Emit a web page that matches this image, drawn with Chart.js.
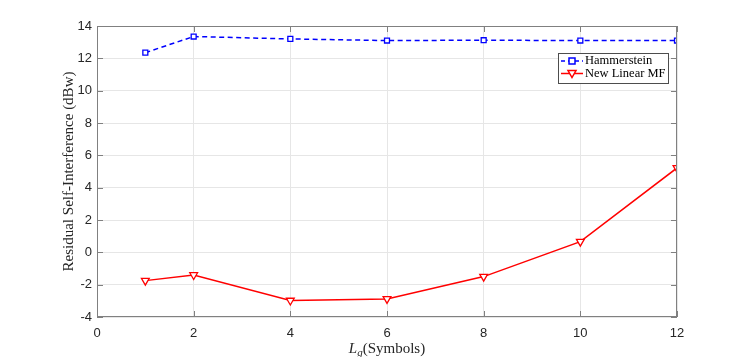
<!DOCTYPE html>
<html lang="en">
<head>
<meta charset="UTF-8">
<title>Residual Self-Interference vs Lg</title>
<script src="https://cdn.jsdelivr.net/npm/chart.js"></script>
<style>
  html, body { margin: 0; padding: 0; background: #fff; }
  #wrap { width: 748px; height: 357px; }
</style>
</head>
<body>
<div id="wrap"><canvas id="myChart" width="748" height="357"></canvas></div>
<script>
// data
const lgValues    = [1, 2, 4, 6, 8, 10, 12];
const hammerstein = [12.35, 13.35, 13.2, 13.1, 13.12, 13.1, 13.1];
const newLinearMF = [-1.75, -1.4, -2.98, -2.88, -1.5, 0.66, 5.22];
const xTicks = [0, 2, 4, 6, 8, 10, 12];
const yTicks = [-4, -2, 0, 2, 4, 6, 8, 10, 12, 14];

const seriesNames = ['Hammerstein', 'New Linear MF'];

const toPoints = ys => lgValues.map((x, i) => ({ x, y: ys[i] }));

// box, inward ticks, legend and the x title (subscript g)
const matlabLook = {
  id: 'matlabLook',
  afterDraw(chart) {
    const { ctx, chartArea: a, scales: { x, y } } = chart;
    ctx.save();
    ctx.strokeStyle = '#808080';
    ctx.lineWidth = 1;
    ctx.strokeRect(a.left + 0.5, a.top + 0.5, a.right - a.left - 1, a.bottom - a.top - 1);
    ctx.beginPath();
    xTicks.forEach(v => {
      const px = Math.round(x.getPixelForValue(v)) + 0.5;
      ctx.moveTo(px, a.bottom); ctx.lineTo(px, a.bottom - 6);
      ctx.moveTo(px, a.top);    ctx.lineTo(px, a.top + 6);
    });
    yTicks.forEach(v => {
      const py = Math.round(y.getPixelForValue(v)) + 0.5;
      ctx.moveTo(a.left, py);  ctx.lineTo(a.left + 6, py);
      ctx.moveTo(a.right, py); ctx.lineTo(a.right - 6, py);
    });
    ctx.stroke();

    // legend
    const lx = 558, ly = 53, lw = 110, lh = 30;
    ctx.fillStyle = '#fff';
    ctx.fillRect(lx, ly, lw, lh);
    ctx.strokeStyle = '#4d4d4d';
    ctx.strokeRect(lx + 0.5, ly + 0.5, lw, lh);
    ctx.font = '12.5px "Liberation Serif", "Times New Roman", serif';
    ctx.textBaseline = 'middle';
    ctx.textAlign = 'left';
    // Hammerstein entry
    let ey = ly + 8;
    ctx.strokeStyle = '#0000ff';
    ctx.lineWidth = 1.5;
    ctx.setLineDash([4, 3]);
    ctx.beginPath(); ctx.moveTo(lx + 3, ey); ctx.lineTo(lx + 25, ey); ctx.stroke();
    ctx.setLineDash([]);
    ctx.fillStyle = '#fff';
    ctx.fillRect(lx + 11, ey - 3, 6, 6);
    ctx.strokeRect(lx + 11, ey - 3, 6, 6);
    ctx.fillStyle = '#000';
    ctx.fillText(seriesNames[0], lx + 27, ey);
    // New Linear MF entry
    ey = ly + 20.5;
    ctx.strokeStyle = '#ff0000';
    ctx.beginPath(); ctx.moveTo(lx + 3, ey); ctx.lineTo(lx + 25, ey); ctx.stroke();
    ctx.beginPath();
    ctx.moveTo(lx + 10, ey - 3); ctx.lineTo(lx + 18, ey - 3); ctx.lineTo(lx + 14, ey + 4); ctx.closePath();
    ctx.fillStyle = '#fff'; ctx.fill(); ctx.stroke();
    ctx.fillStyle = '#000';
    ctx.fillText(seriesNames[1], lx + 27, ey);

    // x axis title: L_g(Symbols)
    ctx.fillStyle = '#262626';
    const cx = (a.left + a.right) / 2, ty = 349;
    ctx.font = 'italic 15px "Liberation Serif", serif';
    const wL = ctx.measureText('L').width;
    ctx.font = 'italic 11px "Liberation Serif", serif';
    const wg = ctx.measureText('g').width;
    ctx.font = '15px "Liberation Serif", serif';
    const wRest = ctx.measureText('(Symbols)').width;
    let sx = cx - (wL + wg + wRest) / 2;
    ctx.font = 'italic 15px "Liberation Serif", serif';
    ctx.fillText('L', sx, ty);
    ctx.font = 'italic 11px "Liberation Serif", serif';
    ctx.fillText('g', sx + wL, ty + 4);
    ctx.font = '15px "Liberation Serif", serif';
    ctx.fillText('(Symbols)', sx + wL + wg, ty);
    ctx.restore();
  }
};

new Chart(document.getElementById('myChart').getContext('2d'), {
  type: 'scatter',
  data: {
    datasets: [
      {
        label: seriesNames[0], data: toPoints(hammerstein), showLine: true,
        borderColor: '#0000ff', borderWidth: 1.5, borderDash: [5, 3.5],
        pointStyle: 'rect', pointRadius: 3.5, pointBorderWidth: 1.3,
        pointBackgroundColor: '#fff', pointBorderColor: '#0000ff'
      },
      {
        label: seriesNames[1], data: toPoints(newLinearMF), showLine: true,
        borderColor: '#ff0000', borderWidth: 1.5,
        pointStyle: 'triangle', pointRotation: 180, pointRadius: 4.5, pointBorderWidth: 1.3,
        pointBackgroundColor: '#fff', pointBorderColor: '#ff0000'
      }
    ]
  },
  options: {
    responsive: false,
    animation: false,
    layout: { padding: { top: 26, right: 71, left: 60, bottom: 0 } },
    plugins: { legend: { display: false }, tooltip: { enabled: false } },
    scales: {
      x: {
        type: 'linear', min: 0, max: 12,
        afterBuildTicks: s => { s.ticks = xTicks.map(v => ({ value: v })); },
        afterFit: s => { s.height = 40; },
        grid: { color: '#e6e6e6', drawTicks: false },
        border: { display: false },
        ticks: { color: '#262626', padding: 9, font: { family: '"Liberation Sans", Arial, sans-serif', size: 13 } }
      },
      y: {
        type: 'linear', min: -4, max: 14,
        afterBuildTicks: s => { s.ticks = yTicks.map(v => ({ value: v })); },
        afterFit: s => { s.width = 37; },
        grid: { color: '#e6e6e6', drawTicks: false },
        border: { display: false },
        title: {
          display: true, text: 'Residual Self-Interference (dBw)', color: '#262626',
          font: { family: '"Liberation Serif", "Times New Roman", serif', size: 15 }, padding: 0
        },
        ticks: { color: '#262626', padding: 5, font: { family: '"Liberation Sans", Arial, sans-serif', size: 13 } }
      }
    }
  },
  plugins: [matlabLook]
});
</script>
</body>
</html>
